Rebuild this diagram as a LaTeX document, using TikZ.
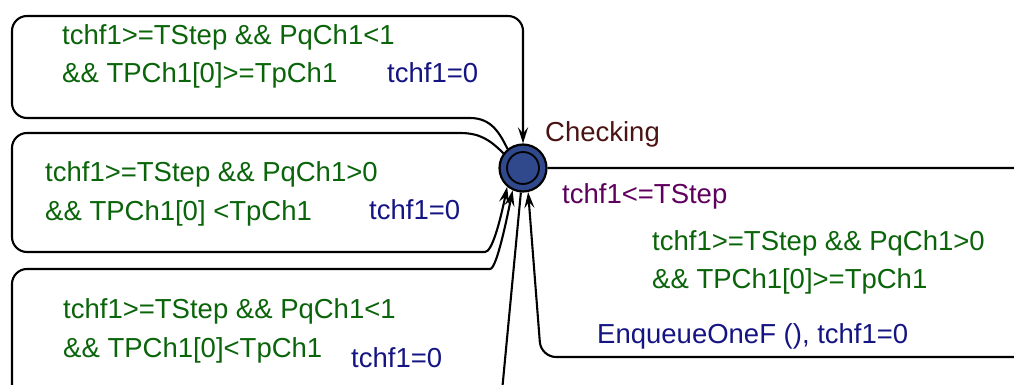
\documentclass[tikz,border=0pt]{standalone}
\usepackage{fontspec}
\setmainfont{Liberation Sans}
\usetikzlibrary{arrows.meta}
\definecolor{guardgreen}{RGB}{10,100,10}
\definecolor{assignblue}{RGB}{20,20,130}
\definecolor{invpurple}{RGB}{95,0,95}
\definecolor{namered}{RGB}{75,20,20}
\definecolor{locblue}{RGB}{48,72,140}
\tikzset{
  lbl/.style={anchor=base west, inner sep=0pt, font=\fontsize{27.5}{33}\selectfont},
  guard/.style={lbl, text=guardgreen},
  assign/.style={lbl, text=assignblue},
  inv/.style={lbl, text=invpurple},
  locname/.style={lbl, text=namered},
  loc/.style={circle, draw=black, line width=2.2pt, fill=locblue, minimum size=47pt, inner sep=0pt},
  wire/.style={draw=black, line width=2.1pt},
  edge/.style={wire, -{Stealth[length=16pt,width=10pt,inset=6pt]}},
}
\begin{document}
\begin{tikzpicture}[x=1pt,y=-1pt]
\useasboundingbox (0,0) rectangle (1014,385);
\clip (0,0) rectangle (1014,385);

% location
\node[loc] (checking) at (523,168) {};
\draw[line width=1.8pt] (checking.center) circle (16pt);
\node[locname] (name) at (545,142) {Checking};
\node[inv] (invariant) at (562,203) {tchf1<=TStep};

% top self-loop
\draw[edge] (checking.129) .. controls (500,134) and (492,118) .. (470,118)
  [rounded corners=15pt] -- (12,118) -- (12,16) -- (523,16) -- (checking.north);
\node[guard] (g1a) at (62,45) {tchf1>=TStep \&\& PqCh1<1};
\node[guard] (g1b) at (62,83) {\&\& TPCh1[0]>=TpCh1};
\node[assign] (a1) at (387,83) {tchf1=0};

% middle self-loop
\draw[edge] (checking.143) .. controls (490,140) and (480,133) .. (460,133)
  [rounded corners=15pt] -- (12,133) -- (12,252) -- (470,252)
  [sharp corners] .. controls (492,252) and (500,222) .. (checking.230);
\node[guard] (g2a) at (45,181) {tchf1>=TStep \&\& PqCh1>0};
\node[guard] (g2b) at (45,220) {\&\& TPCh1[0] <TpCh1};
\node[assign] (a2) at (369,219) {tchf1=0};

% bottom self-loop
\draw[edge] (checking.265) [rounded corners=15pt] -- (501,402) -- (12,402) -- (12,269) -- (475,269)
  [sharp corners] .. controls (496,269) and (505,228) .. (checking.245);
\node[guard] (g3a) at (63,318) {tchf1>=TStep \&\& PqCh1<1};
\node[guard] (g3b) at (63,357) {\&\& TPCh1[0]<TpCh1};
\node[assign] (a3) at (351,367) {tchf1=0};

% right self-loop
\draw[edge] (checking.east) [rounded corners=15pt] -- (1030,168) -- (1030,357) -- (541,357) -- (checking.282);
\node[guard] (g4a) at (652,250) {tchf1>=TStep \&\& PqCh1>0};
\node[guard] (g4b) at (652,288) {\&\& TPCh1[0]>=TpCh1};
\node[assign] (a4) at (597,343) {EnqueueOneF (), tchf1=0};
\end{tikzpicture}
\end{document}
